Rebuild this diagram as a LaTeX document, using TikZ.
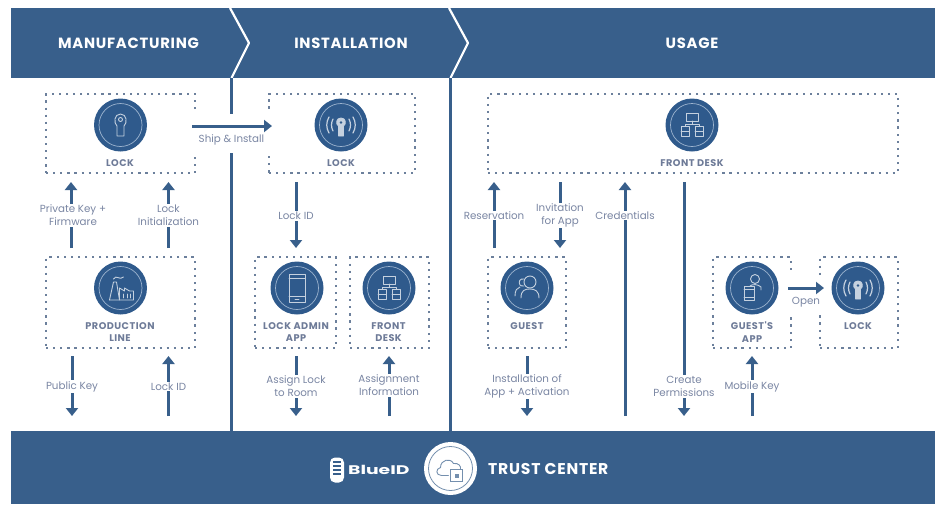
\documentclass[tikz,border=0pt]{standalone}
\usepackage{graphicx}
\usepackage{fontspec}
\setmainfont{Poppins}
\newfontfamily\spacedfont[LetterSpace=5]{Poppins}
\usetikzlibrary{arrows.meta}
\definecolor{band}{HTML}{385F8B}
\definecolor{disc}{HTML}{2F5A8C}
\definecolor{ring}{HTML}{9DB4CF}
\definecolor{dots}{HTML}{6C809C}
\definecolor{lab}{HTML}{7A86A3}
\definecolor{lab2}{HTML}{6E7B98}
\tikzset{
 x=1pt,y=-1pt,
 stagebox/.style={draw=dots,line width=2.8pt,dash pattern=on 2.2pt off 4.9pt,minimum width=#1,minimum height=79pt,inner sep=0pt},
 stagebox/.default=149pt,
 flow/.style={draw=band,line width=3pt,-{Triangle[length=8pt,width=12pt]}},
 sepbar/.style={draw=band,line width=3.6pt},
 flab/.style={fill=white,text=lab,font=\fontsize{10.3}{13}\selectfont,align=center,inner sep=1pt},
 namelab/.style={text=lab2,font=\fontsize{9.7}{12.5}\selectfont\bfseries\spacedfont,align=center,inner sep=0pt},
 headlab/.style={text=white,font=\fontsize{14.8}{17}\selectfont\bfseries\spacedfont,inner sep=0pt},
 discn/.style={circle,fill=disc,minimum size=53pt,inner sep=0pt},
 ic/.style={draw=white!72!disc,line width=0.9pt,line cap=round,line join=round},
}
\newcommand{\ringat}[1]{\draw[ring,line width=.7pt] (#1) circle[radius=21.5];}
\newcommand{\keyicon}[1]{\begin{scope}[shift={(#1)}]
 \draw[ic] (-3.5,1) -- (-3.5,11) -- (3.5,11) -- (3.5,1) .. controls (7,-2) and (6.5,-11) .. (0,-11) .. controls (-6.5,-11) and (-7,-2) .. (-3.5,1) -- cycle;
 \draw[ic] (0,-5.5) circle[radius=2];
 \end{scope}}
\newcommand{\keywaves}[1]{\begin{scope}[shift={(#1)}]
 \draw[ic,fill=white!72!disc] (-2.5,1) -- (-2.5,11) -- (2.5,11) -- (2.5,1) .. controls (5.5,-1) and (5,-7) .. (0,-7) .. controls (-5,-7) and (-5.5,-1) .. (-2.5,1) -- cycle;
 \fill[disc] (0,-2.5) circle[radius=1.4];
 \draw[ic,line width=1.2pt] (-8,-6) .. controls (-10,-2) and (-10,2) .. (-8,6);
 \draw[ic,line width=1.2pt] (-12,-8) .. controls (-15,-3) and (-15,3) .. (-12,8);
 \draw[ic,line width=1.2pt] (8,-6) .. controls (10,-2) and (10,2) .. (8,6);
 \draw[ic,line width=1.2pt] (12,-8) .. controls (15,-3) and (15,3) .. (12,8);
 \end{scope}}
\newcommand{\neticon}[1]{\begin{scope}[shift={(#1)}]
 \draw[ic] (-6,-12) rectangle (6,-4);
 \draw[ic] (0,-4) -- (0,-1) (-7,1) -- (-7,-1) -- (7,-1) -- (7,1);
 \draw[ic] (-11,1) rectangle (-3,11) (3,1) rectangle (11,11);
 \draw[ic] (-11,6) -- (-3,6) (3,6) -- (11,6);
 \end{scope}}
\newcommand{\phoneicon}[1]{\begin{scope}[shift={(#1)}]
 \draw[ic] (-8,-14) rectangle (8,14);
 \draw[ic] (-8,-10) -- (8,-10) (-8,8) -- (8,8) (-2,11) -- (2,11);
 \end{scope}}
\newcommand{\factoryicon}[1]{\begin{scope}[shift={(#1)}]
 \draw[ic] (-11,12) -- (-7,-6) -- (-4,-6) -- (-1,12) (-1,12) -- (-1,0) -- (4,3) -- (4,0) -- (9,3) -- (13,3) -- (13,12) -- cycle;
 \draw[ic] (-11,12) -- (-1,12) (-7,-9) .. controls (-4,-14) and (-1,-7) .. (3,-11);
 \draw[ic] (3,6) -- (3,10) (7,6) -- (7,10) (10,6) -- (10,10);
 \end{scope}}
\newcommand{\guesticon}[1]{\begin{scope}[shift={(#1)}]
 \draw[ic] (3,-6) circle[radius=6];
 \draw[ic] (-3,-9) .. controls (-7,-10) and (-9,-6) .. (-7,-3) .. controls (-6,-2) and (-5,-2) .. (-3,-2);
 \draw[ic] (-6,10) .. controls (-6,2) and (-2,1) .. (3,1) .. controls (8,1) and (12,3) .. (12,10);
 \draw[ic] (-12,8) .. controls (-12,2) and (-10,0) .. (-7,-1);
 \end{scope}}
\newcommand{\appicon}[1]{\begin{scope}[shift={(#1)}]
 \draw[ic] (3,-9) circle[radius=4.5];
 \draw[ic] (-2,-2) .. controls (0,-4) and (6,-4) .. (9,-1) -- (9,2);
 \draw[ic] (-8,-2) rectangle (2,12);
 \draw[ic] (-8,1) -- (2,1) (-8,9) -- (2,9);
 \end{scope}}
\begin{document}
\begin{tikzpicture}
\useasboundingbox (0,0) rectangle (935,504);
% bands
\fill[band] (11,8) rectangle (935,78);
\fill[band] (11,431) rectangle (935,504);
% named points on the separators and flows
\coordinate (chA1) at (230,8); \coordinate (chA2) at (249,43); \coordinate (chA3) at (231.5,78);
\coordinate (chB1) at (449,8); \coordinate (chB2) at (468,43); \coordinate (chB3) at (450.5,78);
\draw[white,line width=2.2pt,line join=round] (chA1) -- (chA2) -- (chA3);
\draw[white,line width=2.2pt,line join=round] (chB1) -- (chB2) -- (chB3);
\coordinate (sepA0) at (231.5,78); \coordinate (sepA1) at (231.5,114);
\coordinate (sepA2) at (231.5,153); \coordinate (sepA3) at (231.5,431);
\coordinate (sepB0) at (450.5,78); \coordinate (sepB1) at (450.5,431);
\draw[sepbar] (sepA0) -- (sepA1) (sepA2) -- (sepA3) (sepB0) -- (sepB1);
% headers
\node[headlab] (h1) at (128.5,43) {MANUFACTURING};
\node[headlab] (h2) at (351,43) {INSTALLATION};
\node[headlab] (h3) at (692,43) {USAGE};
% boxes
\node[stagebox] (b1) at (120.5,133.5) {};
\node[stagebox=146pt] (b2) at (342,133.5) {};
\node[stagebox,minimum height=91pt] (b3) at (120.5,302.5) {};
\node[stagebox=81pt,minimum height=91pt] (b4) at (295.5,302.5) {};
\node[stagebox=79pt,minimum height=91pt] (b5) at (389.5,302.5) {};
\node[stagebox=410pt] (b6) at (693,133.5) {};
\node[stagebox=78pt,minimum height=91pt] (b7) at (527,302.5) {};
\node[stagebox=78pt,minimum height=91pt] (b8) at (752,302.5) {};
\node[stagebox=78pt,minimum height=91pt] (b9) at (859,302.5) {};
% openings in the dotted sides where the arrows pass
\fill[white] (b1.east) ++(-3,-21) rectangle ++(6,40);
\fill[white] (b2.west) ++(-3,-21) rectangle ++(6,40);
\fill[white] (b8.east) ++(-3,-28) rectangle ++(6,38);
\fill[white] (b9.west) ++(-3,-28) rectangle ++(6,38);
% discs
\node[discn] (d1) at (120.5,125) {}; \ringat{d1} \keyicon{d1}
\node[discn] (d2) at (341,125) {}; \ringat{d2} \keywaves{d2}
\node[discn] (d3) at (120.5,288) {}; \ringat{d3} \factoryicon{d3}
\node[discn] (d4) at (297,288) {}; \ringat{d4} \phoneicon{d4}
\node[discn] (d5) at (389,288) {}; \ringat{d5} \neticon{d5}
\node[discn] (d6) at (692,125) {}; \ringat{d6} \neticon{d6}
\node[discn] (d7) at (527,288) {}; \ringat{d7} \guesticon{d7}
\node[discn] (d8) at (752,288) {}; \ringat{d8} \appicon{d8}
\node[discn] (d9) at (858,288) {}; \ringat{d9} \keywaves{d9}
% names
\node[namelab] (n1) at (120,163) {LOCK};
\node[namelab] (n2) at (341,163) {LOCK};
\node[namelab] (n3) at (120,332) {PRODUCTION\\LINE};
\node[namelab,fill=white,inner xsep=1pt] (n4) at (296,332) {LOCK ADMIN\\APP};
\node[namelab] (n5) at (388.5,332) {FRONT\\DESK};
\node[namelab] (n6) at (692,163) {FRONT DESK};
\node[namelab] (n7) at (527,326.5) {GUEST};
\node[namelab] (n8) at (752,332) {GUEST'S\\APP};
\node[namelab] (n9) at (858,326.5) {LOCK};
% flow end points
\foreach \n/\x/\y in {
 a1/71/248,a2/71/182, c1/168.5/248,c2/168.5/182,
 e1/72/356,e2/72/416, f1/168.5/416,f2/168.5/356,
 g1/296/182,g2/296/248, i1/296/356,i2/296/416,
 j1/389/416,j2/389/356,
 k1/494/248,k2/494/182, l1/560/182,l2/560/248,
 m1/625/416,m2/625/182, o3/684/182,o4/684/416,
 o1/527/356,o2/527/416, p1/752/416,p2/752/356,
 s1/192/126,s2/272/126, t1/788/288,t2/824/288}
 {\coordinate (\n) at (\x,\y);}
\draw[flow] (a1) -- (a2);
\draw[flow] (c1) -- (c2);
\draw[flow] (e1) -- (e2);
\draw[flow] (f1) -- (f2);
\draw[flow] (g1) -- (g2);
\draw[flow] (i1) -- (i2);
\draw[flow] (j1) -- (j2);
\draw[flow] (k1) -- (k2);
\draw[flow] (l1) -- (l2);
\draw[flow] (m1) -- (m2);
\draw[flow] (o3) -- (o4);
\draw[flow] (o1) -- (o2);
\draw[flow] (p1) -- (p2);
\draw[flow] (s1) -- (s2);
\draw[flow] (t1) -- (t2);
% flow labels
\node[flab] (la) at (73,215.5) {Private Key +\\Firmware};
\node[flab] (lc) at (168.5,215.5) {Lock\\Initialization};
\node[flab] (le) at (72,386.5) {Public Key};
\node[flab] (lf) at (168.5,386.5) {Lock ID};
\node[flab] (ls) at (231.5,140) {Ship \& Install};
\node[flab] (lg) at (296,216) {Lock ID};
\node[flab] (li) at (296,386.5) {Assign Lock\\to Room};
\node[flab] (lj) at (389,385.5) {Assignment\\Information};
\node[flab] (lk) at (494,215.5) {Reservation};
\node[flab] (ll) at (560,215.5) {Invitation\\for App};
\node[flab] (lm) at (625,215.5) {Credentials};
\node[flab] (ln) at (684,386.5) {Create\\Permissions};
\node[flab] (lo) at (527,386.5) {Installation of\\App + Activation};
\node[flab] (lp) at (752,386.5) {Mobile Key};
\node[flab] (lt) at (806,302) {Open};
% footer
\node[fill=white,rounded corners=5pt,minimum width=14pt,minimum height=25pt,inner sep=0pt] (logo) at (337,470) {};
\foreach \yy in {462,466,470,474} \draw[band,line width=1.2pt] (333,\yy) -- (341,\yy);
\node[text=white,font=\fontsize{12.5}{14}\selectfont\bfseries,inner sep=0pt,anchor=west] (blue) at (348,469.5) {\scalebox{1.5}[1]{BlueID}};
\node[circle,fill=white,minimum size=53pt,inner sep=0pt] (tc) at (450.5,468.5) {};
\draw[band!70!white,line width=.8pt] (tc) circle[radius=22];
\begin{scope}[shift={(tc)}]
 \draw[band!70!white,line width=.9pt,line cap=round,line join=round] (-2,7) -- (-9,7) .. controls (-15,7) and (-15,0) .. (-10,-1) .. controls (-10,-9) and (0,-11) .. (3,-5) .. controls (8,-6) and (11,-2) .. (10,1);
 \draw[band!70!white,line width=.9pt,fill=white] (0,1) rectangle (12,13);
 \fill[band!70!white] (4,5) rectangle (8,9);
\end{scope}
\node[headlab,font=\fontsize{15.6}{17}\selectfont\bfseries\spacedfont,anchor=west] (tct) at (488,468.5) {TRUST CENTER};
\end{tikzpicture}
\end{document}
